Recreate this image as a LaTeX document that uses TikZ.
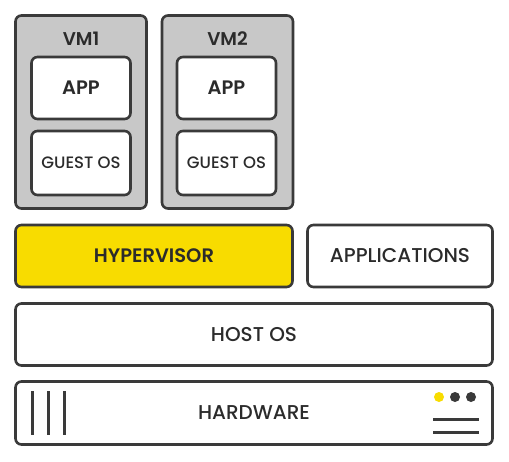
\documentclass[tikz,border=0pt]{standalone}
\usepackage{fontspec}
\setmainfont{Poppins}
\newfontfamily\medfont{Poppins Medium}
\newfontfamily\semifont{Poppins SemiBold}
\usepackage{tikz}
\definecolor{edge}{HTML}{3A3A3A}
\definecolor{ink}{HTML}{2B2B2B}
\definecolor{vmgray}{HTML}{C8C8C8}
\definecolor{hvyellow}{HTML}{F8DC00}

\begin{document}
\begin{tikzpicture}[x=1pt,y=-1pt,
  every node/.style={text=ink,inner sep=0pt},
  layer/.style={draw=edge,line width=2.6pt,rounded corners=6pt,fill=white,font=\medfont\fontsize{20}{20}\selectfont},
  vmbox/.style={layer,fill=vmgray,minimum width=131,minimum height=193},
  inbox/.style={layer,minimum width=99,minimum height=62},
  wide/.style={layer,minimum width=477,minimum height=62}]
  \useasboundingbox (0,0) rectangle (509,461);
  % virtual machines
  \node[vmbox] (vm1) at (81,112) {};
  \node[vmbox] (vm2) at (227.5,112) {};
  \node[font=\semifont\fontsize{18.5}{18.5}\selectfont] (vm1label) at (81,39) {VM1};
  \node[font=\semifont\fontsize{18.5}{18.5}\selectfont] (vm2label) at (227.5,39) {VM2};
  \node[inbox,font=\semifont\fontsize{19.5}{19.5}\selectfont] (app1) at (81,88) {APP};
  \node[inbox,font=\semifont\fontsize{19.5}{19.5}\selectfont] (app2) at (226.5,88) {APP};
  \node[inbox,minimum height=64,font=\medfont\fontsize{16.5}{16.5}\selectfont] (guest1) at (81,163) {GUEST OS};
  \node[inbox,minimum height=64,font=\medfont\fontsize{16.5}{16.5}\selectfont] (guest2) at (226.5,163) {GUEST OS};
  % layers
  \node[layer,fill=hvyellow,minimum width=277,minimum height=62,font=\semifont\fontsize{19.5}{19.5}\selectfont] (hyper) at (154,256) {HYPERVISOR};
  \node[layer,minimum width=185,minimum height=62] (apps) at (400,256) {APPLICATIONS};
  \node[wide] (host) at (254,334.5) {HOST OS};
  \node[wide,minimum height=63] (hw) at (254,413) {HARDWARE};
  % hardware panel
  \foreach \x in {32,48,64}
    \draw[edge,line width=3pt] (\x,391) -- (\x,435);
  \fill[hvyellow] (439,397) circle (5);
  \fill[edge] (455,397) circle (5);
  \fill[edge] (471,397) circle (5);
  \draw[edge,line width=3pt] (433,419) -- (479,419);
  \draw[edge,line width=3pt] (433,432) -- (479,432);
\end{tikzpicture}
\end{document}
